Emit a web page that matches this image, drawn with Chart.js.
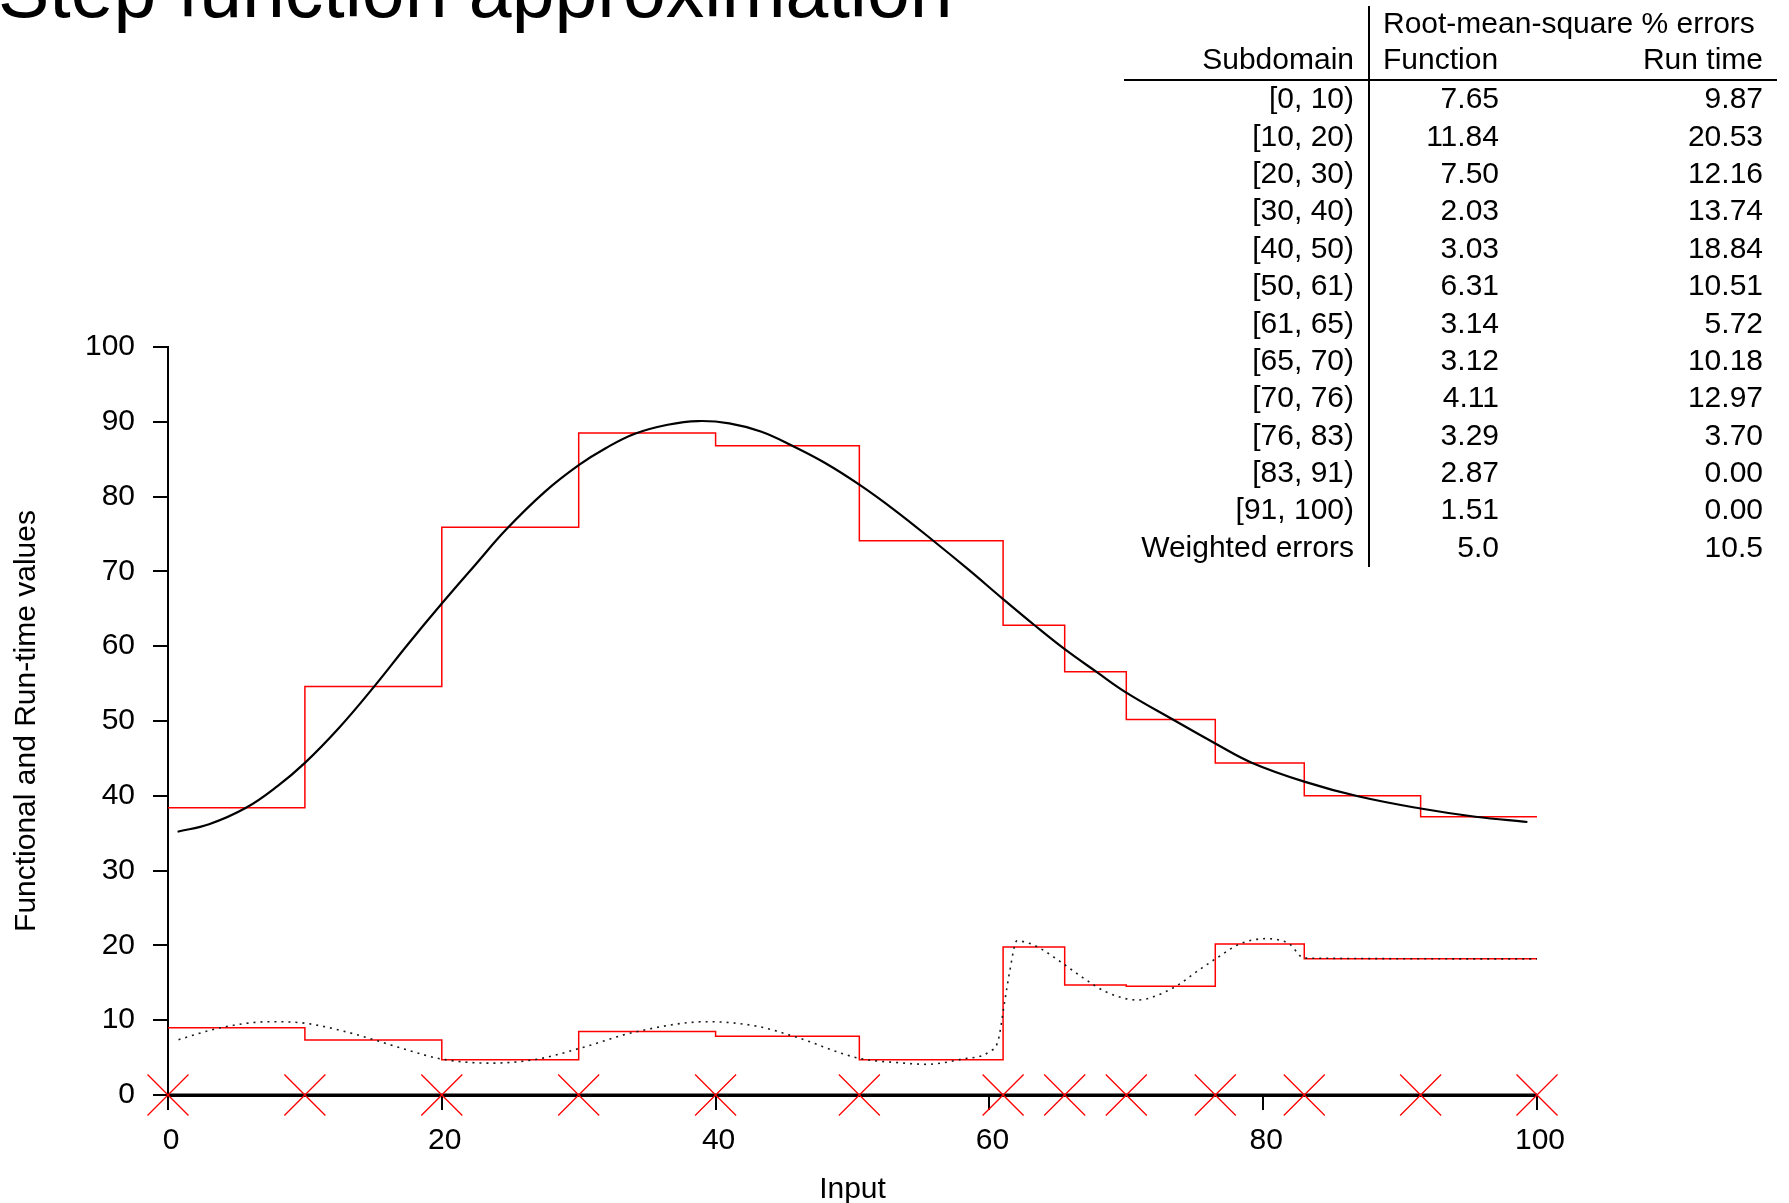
<!DOCTYPE html>
<html><head><meta charset="utf-8">
<script src="https://cdn.jsdelivr.net/npm/chart.js@4"></script>
<style>
html,body{margin:0;padding:0;background:#fff;overflow:hidden}
#wrap{position:relative;width:1789px;height:1203px;overflow:hidden;background:#fff}
canvas{position:absolute;left:0;top:0}
.t{position:absolute;font-family:'Liberation Sans',Arial,sans-serif;font-size:30px;line-height:30px;white-space:nowrap;color:#000}
#title{position:absolute;left:-2px;top:-48px;font-family:'Liberation Sans',Arial,sans-serif;font-size:77px;line-height:77px;white-space:nowrap;color:#000}
.rule{position:absolute;background:#000}
</style></head>
<body><div id="wrap"><canvas id="c" width="1789" height="1203"></canvas>
<div id="title">Step function approximation</div>
<div id="table"></div>
</div>
<script>
// ---- data ----
const breaks = [0, 10, 20, 30, 40, 50.5, 61, 65.5, 70, 76.5, 83, 91.5, 100];
const funcSteps = [38.4, 54.6, 75.9, 88.5, 86.8, 74.1, 62.8, 56.6, 50.2, 44.4, 40.0, 37.2];
const runSteps = [9.0, 7.35, 4.7, 8.5, 7.85, 4.7, 19.8, 14.7, 14.55, 20.2, 18.2, 18.2];

const funcX = [0.7, 3, 5.7, 8, 10, 12.5, 15.1, 17.5, 20, 22.5, 24.7, 27.5, 30, 32, 34.1, 36.5, 38.7, 41, 43.3, 45.6, 48, 50.5, 53, 55.9, 58.5, 61, 63.3, 65.5, 67.8, 70, 73.4, 76.5, 79.2, 83, 87, 91.5, 95.5, 99.3];
const funcY = [35.2, 36.2, 38.4, 41.3, 44.4, 49.1, 54.7, 60.2, 65.7, 71.0, 75.6, 80.6, 84.2, 86.5, 88.4, 89.6, 90.1, 89.8, 88.7, 86.8, 84.5, 81.6, 78.3, 74.1, 70.2, 66.3, 62.8, 59.6, 56.6, 53.8, 50.2, 47.0, 44.4, 41.9, 39.9, 38.3, 37.2, 36.5];

const runX = [0.77, 3.85, 7.5, 10, 12.9, 15.1, 17.6, 20, 23.6, 27, 30, 34.3, 39.4, 43, 45.7, 50.5, 53.5, 55.4, 58, 60, 60.65, 61.1, 61.5, 62, 62.9, 63.9, 65.2, 66.9, 68.5, 70.8, 73.4, 75.3, 76.6, 78.3, 80.2, 81.9, 83, 100];
const runY = [7.4, 9.0, 9.8, 9.6, 8.5, 7.35, 5.96, 4.8, 4.26, 4.8, 6.2, 8.5, 9.8, 9.2, 7.85, 4.9, 4.3, 4.1, 4.8, 5.8, 7.35, 12.3, 16.7, 20.6, 20.3, 19.4, 17.8, 15.6, 13.8, 12.7, 14.3, 16.7, 18.3, 20.2, 20.9, 20.2, 18.3, 18.2];

const xTicks = [0, 20, 40, 60, 80, 100];
const yTicks = [0, 10, 20, 30, 40, 50, 60, 70, 80, 90, 100];

const subdomains = ['[0, 10)', '[10, 20)', '[20, 30)', '[30, 40)', '[40, 50)', '[50, 61)', '[61, 65)', '[65, 70)', '[70, 76)', '[76, 83)', '[83, 91)', '[91, 100)', 'Weighted errors'];
const funcErr = ['7.65', '11.84', '7.50', '2.03', '3.03', '6.31', '3.14', '3.12', '4.11', '3.29', '2.87', '1.51', '5.0'];
const runErr = ['9.87', '20.53', '12.16', '13.74', '18.84', '10.51', '5.72', '10.18', '12.97', '3.70', '0.00', '0.00', '10.5'];

// ---- table (HTML text) ----
const W = 1789;
const tbl = document.getElementById('table');
function addText(txt, cy, opts) {
  const d = document.createElement('div');
  d.className = 't';
  d.textContent = txt;
  d.style.top = (cy - 14.7) + 'px';
  if (opts.right !== undefined) { d.style.right = (W - opts.right) + 'px'; d.style.textAlign = 'right'; }
  else d.style.left = opts.left + 'px';
  tbl.appendChild(d);
}
function addRule(l, t, w, h) {
  const d = document.createElement('div');
  d.className = 'rule';
  Object.assign(d.style, {left: l + 'px', top: t + 'px', width: w + 'px', height: h + 'px'});
  tbl.appendChild(d);
}
addText('Root-mean-square % errors', 23, {left: 1383});
addText('Subdomain', 59, {right: 1354});
addText('Function', 59, {left: 1383});
addText('Run time', 59, {right: 1763});
subdomains.forEach((s, i) => {
  const cy = 98 + i * 37.37;
  addText(s, cy, {right: 1354});
  addText(funcErr[i], cy, {right: 1499});
  addText(runErr[i], cy, {right: 1763});
});
addRule(1368, 6, 2, 561);
addRule(1124, 79, 653, 2);

// ---- chart ----
function stepPts(vals) {
  const pts = vals.map((v, i) => ({x: breaks[i], y: v}));
  pts.push({x: breaks[breaks.length - 1], y: vals[vals.length - 1]});
  return pts;
}

Chart.defaults.font.family = "'Liberation Sans', Arial, sans-serif";
Chart.defaults.font.size = 30;
Chart.defaults.color = '#000';

new Chart(document.getElementById('c'), {
  type: 'line',
  data: {
    datasets: [
      {label: 'Function', data: funcX.map((x, i) => ({x, y: funcY[i]})), borderColor: '#000', borderWidth: 2.2,
       pointRadius: 0, tension: 0.4, fill: false},
      {label: 'Run time', data: runX.map((x, i) => ({x, y: runY[i]})), borderColor: '#1a1a1a', borderWidth: 1.6,
       borderDash: [2, 5], pointRadius: 0, cubicInterpolationMode: 'monotone', fill: false},
      {label: 'Function step approximation', data: stepPts(funcSteps), borderColor: '#ff0000', borderWidth: 1.5,
       stepped: true, pointRadius: 0, fill: false},
      {label: 'Run-time step approximation', data: stepPts(runSteps), borderColor: '#ff0000', borderWidth: 1.5,
       stepped: true, pointRadius: 0, fill: false},
      {label: 'Breakpoints', data: breaks.map(x => ({x, y: 0})), borderColor: '#000', borderWidth: 3,
       pointStyle: 'crossRot', pointRadius: 29, pointBorderColor: '#ff0000', pointBorderWidth: 1.3,
       pointBackgroundColor: 'rgba(0,0,0,0)', clip: false, fill: false}
    ]
  },
  options: {
    responsive: false, animation: false, events: [],
    layout: {padding: {left: 0, right: 252, top: 347, bottom: 0}},
    plugins: {legend: {display: false}, tooltip: {enabled: false}, title: {display: false}},
    scales: {
      x: {
        type: 'linear', min: 0, max: 100,
        afterFit(s) { s.height = 108; },
        afterBuildTicks(s) { s.ticks = xTicks.map(v => ({value: v})); },
        ticks: {padding: 13, labelOffset: 3, maxRotation: 0, autoSkip: false, font: {size: 30}},
        grid: {drawOnChartArea: false, drawTicks: true, tickLength: 15, color: '#000', lineWidth: 2},
        border: {display: true, color: '#000', width: 3},
        title: {display: true, text: 'Input', font: {size: 30, lineHeight: 0.867}, padding: {top: 0, bottom: 0}}
      },
      y: {
        type: 'linear', min: 0, max: 100,
        afterFit(s) { s.width = 168; },
        afterBuildTicks(s) { s.ticks = yTicks.map(v => ({value: v})); },
        ticks: {padding: 18, font: {size: 30}},
        grid: {drawOnChartArea: false, drawTicks: true, tickLength: 15, color: '#000', lineWidth: 2},
        border: {display: true, color: '#000', width: 2},
        title: {display: true, text: 'Functional and Run-time values', font: {size: 30}, padding: {top: 9, bottom: 0}}
      }
    }
  }
});
</script>
</body></html>
